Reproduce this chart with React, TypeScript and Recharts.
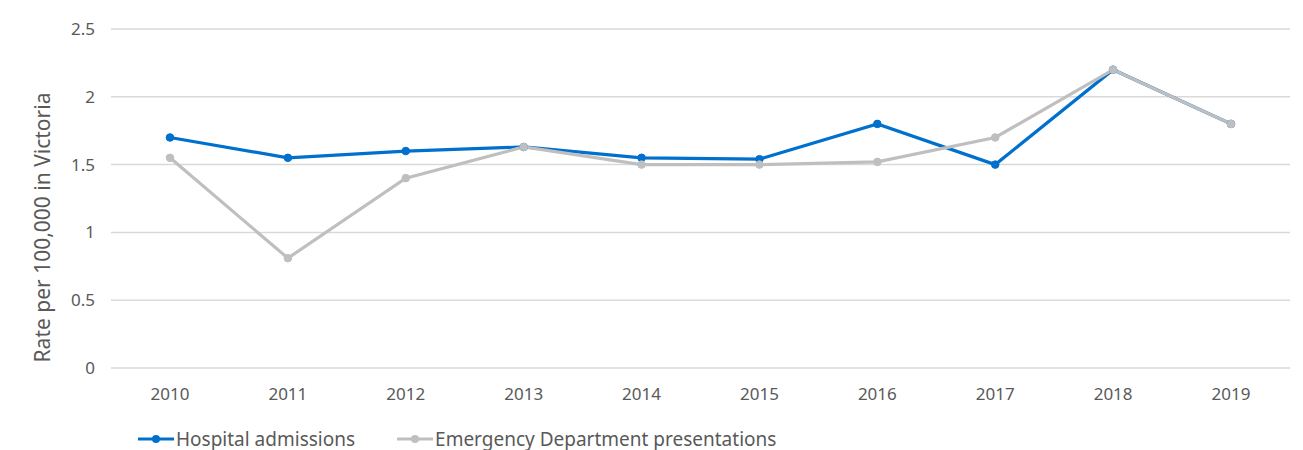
import React from 'react';
import { LineChart, Line, XAxis, YAxis, CartesianGrid, Legend } from 'recharts';

const years = ['2010', '2011', '2012', '2013', '2014', '2015', '2016', '2017', '2018', '2019'];
const hospitalAdmissions = [1.7, 1.55, 1.6, 1.63, 1.55, 1.54, 1.8, 1.5, 2.2, 1.8];
const edPresentations = [1.55, 0.81, 1.4, 1.63, 1.5, 1.5, 1.52, 1.7, 2.2, 1.8];
const yTicks = [0, 0.5, 1, 1.5, 2, 2.5];

const data = years.map((year, i) => ({
  year,
  hospital: hospitalAdmissions[i],
  ed: edPresentations[i],
}));

const BLUE = '#0070CE';
const GREY = '#BFBFBF';
const TEXT = '#595959';
const FONT = '"Noto Sans", sans-serif';

const legendItems = [
  { label: 'Hospital admissions', color: BLUE },
  { label: 'Emergency Department presentations', color: GREY },
];

const LegendContent = () => (
  <div style={{ display: 'flex', alignItems: 'center', fontFamily: FONT, fontSize: 19, color: TEXT }}>
    {legendItems.map((item) => (
      <div key={item.label} style={{ display: 'flex', alignItems: 'center', marginRight: 42 }}>
        <svg width={36} height={10} style={{ marginRight: 2 }}>
          <line x1={0} y1={5} x2={36} y2={5} stroke={item.color} strokeWidth={3} />
          <circle cx={18} cy={5} r={4} fill={item.color} />
        </svg>
        <span>{item.label}</span>
      </div>
    ))}
  </div>
);

// axis title sits a little below the middle of the plot, like the original
const YLabel = (props: any) => {
  const { viewBox } = props;
  const cx = 34;
  const cy = viewBox.y + viewBox.height / 2 + 29;
  return (
    <text
      x={cx}
      y={cy}
      transform={`rotate(-90, ${cx}, ${cy})`}
      textAnchor="middle"
      dominantBaseline="central"
      fill={TEXT}
      fontSize={21}
      fontFamily={FONT}
    >
      Rate per 100,000 in Victoria
    </text>
  );
};

export default function App() {
  return (
    <LineChart
      width={1295}
      height={442}
      data={data}
      margin={{ top: 21, right: 13, left: 0, bottom: 12 }}
    >
      <CartesianGrid vertical={false} stroke="#D9D9D9" strokeWidth={1.5} />
      <XAxis
        dataKey="year"
        axisLine={false}
        tickLine={false}
        padding={{ left: 59, right: 59 }}
        tick={{ fill: TEXT, fontSize: 17, fontFamily: FONT }}
        tickMargin={14}
        height={42}
      />
      <YAxis
        domain={[0, 2.5]}
        ticks={yTicks}
        axisLine={false}
        tickLine={false}
        width={103}
        tick={{ fill: TEXT, fontSize: 17, fontFamily: FONT }}
        tickMargin={10}
        label={<YLabel />}
      />
      <Legend
        verticalAlign="bottom"
        align="left"
        content={<LegendContent />}
        wrapperStyle={{ left: 130, bottom: -4, width: 'auto', height: 28 }}
      />
      <Line
        dataKey="hospital"
        name="Hospital admissions"
        stroke={BLUE}
        strokeWidth={3.2}
        dot={{ r: 3.8, fill: BLUE, stroke: BLUE, strokeWidth: 1 }}
        isAnimationActive={false}
      />
      <Line
        dataKey="ed"
        name="Emergency Department presentations"
        stroke={GREY}
        strokeWidth={3.2}
        dot={{ r: 3.8, fill: GREY, stroke: GREY, strokeWidth: 1 }}
        isAnimationActive={false}
      />
    </LineChart>
  );
}
